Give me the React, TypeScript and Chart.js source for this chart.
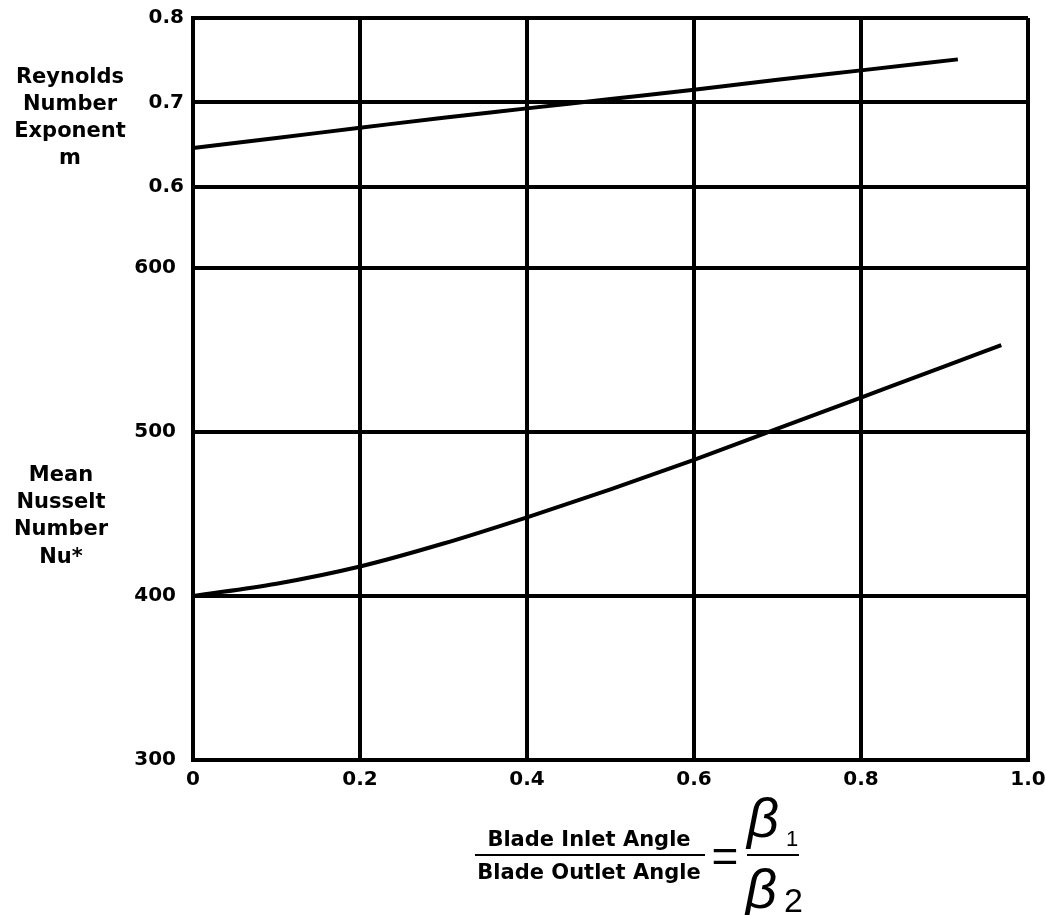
import React, { useEffect, useRef } from 'react';
import { Chart, registerables } from 'chart.js';

Chart.register(...registerables);

// ---- data ----
const xTickValues = [0, 0.2, 0.4, 0.6, 0.8, 1.0];
const xTickLabels = ['0', '0.2', '0.4', '0.6', '0.8', '1.0'];
const reTickValues = [0.6, 0.7, 0.8];
const reTickLabels = ['0.6', '0.7', '0.8'];
const nuTickValues = [300, 400, 500, 600];
const nuTickLabels = ['300', '400', '500', '600'];

// Reynolds number exponent m vs beta1/beta2
const mX = [0, 0.1, 0.2, 0.3, 0.4, 0.5, 0.6, 0.7, 0.8, 0.916];
const mValues = [0.646, 0.658, 0.67, 0.682, 0.693, 0.704, 0.715, 0.727, 0.738, 0.751];

// Mean Nusselt number Nu* vs beta1/beta2
const nuX = [0, 0.1, 0.2, 0.3, 0.4, 0.5, 0.6, 0.7, 0.8, 0.9, 0.968];
const nuValues = [400, 407.5, 418, 432, 448, 465, 483, 502, 521, 540, 553];

const reTitleLines = ['Reynolds', 'Number', 'Exponent', 'm'];
const nuTitleLines = ['Mean', 'Nusselt', 'Number', 'Nu*'];
const xTitleTop = 'Blade Inlet Angle';
const xTitleBottom = 'Blade Outlet Angle';

const SANS = "'DejaVu Sans', 'Liberation Sans', sans-serif";
const ARIAL = "'Liberation Sans', Arial, sans-serif";

type TProps = {
  text: string;
  cx?: number;
  left?: number;
  cy: number;
  size: number;
  family?: string;
  weight?: string;
  italic?: boolean;
  width?: number;
};

function Label({ text, cx, left, cy, size, family = SANS, weight = 'bold', italic = false, width = 300 }: TProps) {
  const l = left !== undefined ? left : (cx as number) - width / 2;
  return (
    <div
      style={{
        position: 'absolute',
        left: l,
        top: cy - 0.48 * size,
        width,
        textAlign: left !== undefined ? 'left' : 'center',
        fontFamily: family,
        fontWeight: weight as any,
        fontStyle: italic ? 'italic' : 'normal',
        fontSize: size,
        lineHeight: `${size}px`,
        color: '#000',
        whiteSpace: 'nowrap',
      }}
    >
      {text}
    </div>
  );
}

export default function App() {
  const ref = useRef<HTMLCanvasElement>(null);

  useEffect(() => {
    const canvas = ref.current;
    if (!canvas) return;
    const tickFont = { family: SANS, size: 20, weight: 'bold' as const };
    const grid = { color: '#000', lineWidth: 4, drawTicks: false };
    const border = { color: '#000', width: 4 };
    const fitY = (s: any) => {
      s.width = 193;
      s.paddingTop = 0;
      s.paddingBottom = 0;
    };

    const chart = new Chart(canvas, {
      type: 'line',
      data: {
        datasets: [
          {
            label: 'Reynolds Number Exponent m',
            data: mX.map((x, i) => ({ x, y: mValues[i] })),
            xAxisID: 'x',
            yAxisID: 'yRe',
            borderColor: '#000',
            borderWidth: 4,
            pointRadius: 0,
            cubicInterpolationMode: 'monotone',
            fill: false,
          },
          {
            label: 'Mean Nusselt Number Nu*',
            data: nuX.map((x, i) => ({ x, y: nuValues[i] })),
            xAxisID: 'x',
            yAxisID: 'yNu',
            borderColor: '#000',
            borderWidth: 4,
            pointRadius: 0,
            cubicInterpolationMode: 'monotone',
            fill: false,
          },
        ],
      },
      options: {
        responsive: false,
        animation: false,
        devicePixelRatio: 1,
        layout: { padding: { top: 18, right: 18, left: 0, bottom: 0 } },
        plugins: { legend: { display: false }, tooltip: { enabled: false } },
        scales: {
          x: {
            type: 'linear',
            position: 'bottom',
            min: 0,
            max: 1,
            afterBuildTicks: (s: any) => {
              s.ticks = xTickValues.map((v) => ({ value: v }));
            },
            ticks: {
              font: tickFont,
              color: '#000',
              padding: 8,
              maxRotation: 0,
              autoSkip: false,
              callback: (_v: any, i: number) => xTickLabels[i],
            },
            grid,
            border,
            afterFit: (s: any) => {
              s.height = 155;
              s.paddingLeft = 0;
              s.paddingRight = 0;
            },
          },
          yRe: {
            type: 'linear',
            position: 'left',
            stack: 'left',
            stackWeight: 250,
            weight: 2,
            min: 0.504,
            max: 0.8,
            afterBuildTicks: (s: any) => {
              s.ticks = reTickValues.map((v) => ({ value: v }));
            },
            ticks: {
              font: tickFont,
              color: '#000',
              padding: 9,
              autoSkip: false,
              callback: (_v: any, i: number) => reTickLabels[i],
            },
            grid,
            border,
            afterFit: fitY,
          },
          yNu: {
            type: 'linear',
            position: 'left',
            stack: 'left',
            stackWeight: 492,
            weight: 1,
            min: 300,
            max: 600,
            afterBuildTicks: (s: any) => {
              s.ticks = nuTickValues.map((v) => ({ value: v }));
            },
            ticks: {
              font: tickFont,
              color: '#000',
              padding: 17,
              autoSkip: false,
              callback: (_v: any, i: number) => nuTickLabels[i],
            },
            grid,
            border,
            afterFit: fitY,
          },
        },
      } as any,
    });
    return () => chart.destroy();
  }, []);

  const reY = [76, 103, 130, 157];
  const nuY = [474, 501, 528, 556];

  return (
    <div style={{ position: 'absolute', left: 0, top: 0, width: 1046, height: 915, background: '#fff', overflow: 'hidden' }}>
      <canvas ref={ref} width={1046} height={915} style={{ position: 'absolute', left: 0, top: 0, display: 'block' }} />
      {reTitleLines.map((t, i) => (
        <Label key={'r' + i} text={t} cx={70} cy={reY[i]} size={21} width={160} />
      ))}
      {nuTitleLines.map((t, i) => (
        <Label key={'n' + i} text={t} cx={61} cy={nuY[i]} size={21} width={160} />
      ))}
      {/* x-axis title: fraction = beta1 / beta2 */}
      <Label text={xTitleTop} cx={589} cy={839} size={21} width={300} />
      <div style={{ position: 'absolute', left: 475, top: 854, width: 230, height: 2, background: '#000' }} />
      <Label text={xTitleBottom} cx={589} cy={872} size={21} width={300} />
      <Label text="=" cx={725} cy={855} size={46} family={ARIAL} weight="normal" width={40} />
      <Label text="β" left={747} cy={817} size={56} family={ARIAL} weight="normal" italic width={40} />
      <Label text="1" left={786} cy={839} size={22} family={ARIAL} weight="normal" width={20} />
      <div style={{ position: 'absolute', left: 747, top: 854, width: 52, height: 2, background: '#000' }} />
      <Label text="β" left={745} cy={888} size={56} family={ARIAL} weight="normal" italic width={40} />
      <Label text="2" left={784} cy={899} size={34} family={ARIAL} weight="normal" width={30} />
    </div>
  );
}
